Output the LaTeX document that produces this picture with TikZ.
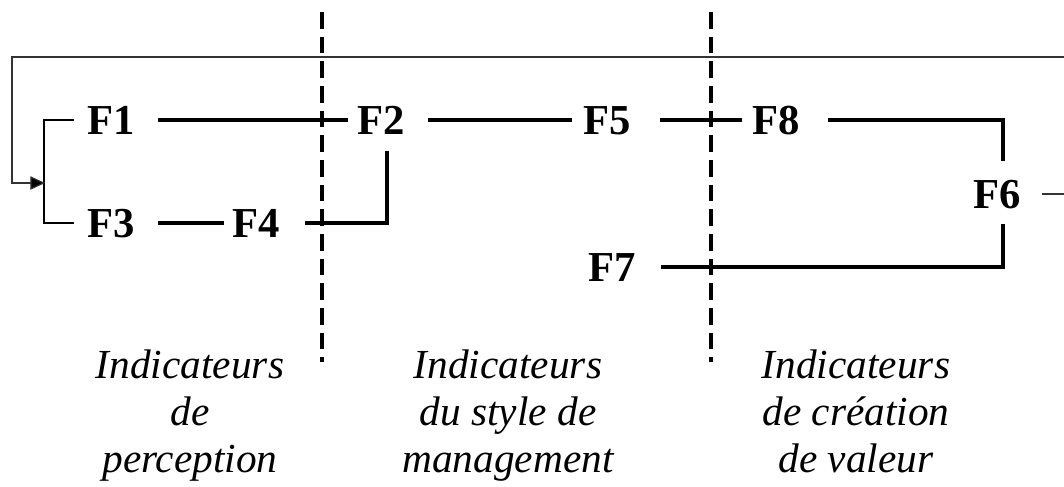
\documentclass[tikz,border=0pt]{standalone}
\usepackage{fontspec}
\setmainfont{Liberation Serif}
\usetikzlibrary{arrows.meta,calc}
\tikzset{
  fac/.style={inner sep=0pt, font=\fontsize{32}{32}\selectfont\bfseries, text height=21pt, text depth=0pt},
  link/.style={line width=2.6pt, line cap=rect},
  sep/.style={line width=3pt, dash pattern=on 12.5pt off 6pt},
  fb/.style={line width=0.9pt, black!80},
  lbl/.style={inner sep=0pt, align=center, anchor=north, font=\fontsize{31}{35}\selectfont\itshape}
}
\begin{document}
\begin{tikzpicture}[x=0.75pt,y=-0.75pt]
\clip (0,0) rectangle (1064,486);
\fill[white] (0,0) rectangle (1064,486);
% factors
\node[fac] (F1) at (111,120) {F1};
\node[fac] (F3) at (111,223) {F3};
\node[fac] (F4) at (256,223) {F4};
\node[fac] (F2) at (381,120) {F2};
\node[fac] (F5) at (607,120) {F5};
\node[fac] (F8) at (776,120) {F8};
\node[fac] (F6) at (997,194) {F6};
\node[fac] (F7) at (612,267) {F7};
% separators
\coordinate (s1t) at (322,12); \coordinate (s1b) at (322,362);
\coordinate (s2t) at (711,12); \coordinate (s2b) at (711,362);
\draw[sep] (s1t) -- (s1b);
\draw[sep] (s2t) -- (s2b);
% links
\draw[link] ($(F1.east)+(25,0)$) -- ($(F2.west)+(-11,0)$);
\draw[link] ($(F3.east)+(25,0)$) -- ($(F4.west)+(-10,0)$);
\draw[link] ($(F4.east)+(27,0)$) -| ($(F2.south)+(6,18)$);
\draw[link] ($(F2.east)+(25,0)$) -- ($(F5.west)+(-13,0)$);
\draw[link] ($(F5.east)+(31,0)$) -- ($(F8.west)+(-12,0)$);
\draw[link] ($(F8.east)+(30,0)$) -| ($(F6.north)+(6,-20)$);
\draw[link] ($(F6.south)+(6,17)$) |- ($(F7.east)+(27,0)$);
% bracket
\draw[line width=1.6pt] ($(F1.west)+(-13,0)$) -- ++(-30,0) |- ($(F3.west)+(-13,0)$);
\coordinate (br) at (45,183);
% feedback loop
\coordinate (fbTR) at (1090,57);
\coordinate (fbTL) at (12,57);
\draw[fb, -{Triangle[length=11pt,width=10pt,fill=black]}] ($(F6.east)+(21,0)$) -| (fbTR) -- (fbTL) |- (br);
% labels
\node[lbl] (L1) at (190,350) {Indicateurs\\de\\perception};
\node[lbl] (L2) at (508,350) {Indicateurs\\du style de\\management};
\node[lbl] (L3) at (856,350) {Indicateurs\\de création\\de valeur};
\end{tikzpicture}
\end{document}
